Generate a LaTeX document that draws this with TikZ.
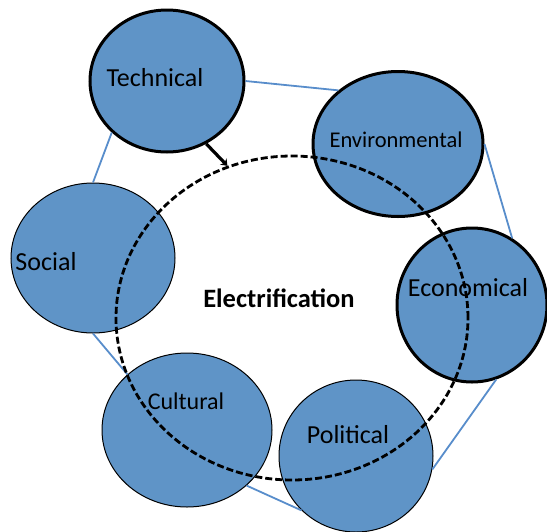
\documentclass[tikz,border=0pt]{standalone}
\usepackage{fontspec}
\setmainfont{Carlito}
\usetikzlibrary{shapes.geometric,arrows.meta}
\definecolor{ringblue}{RGB}{95,148,199}
\definecolor{linkblue}{RGB}{88,141,203}
\tikzset{
    aspect/.style={ellipse, draw, fill=ringblue, inner sep=0pt},
    heavy/.style={line width=3pt},
    light/.style={line width=1pt},
    link/.style={draw=linkblue, line width=1.8pt},
    tag/.style={inner sep=0pt, font=\fontsize{26}{30}\selectfont},
}

\begin{document}
\begin{tikzpicture}[x=1pt,y=-1pt]
\useasboundingbox (0,0) rectangle (547,531);
% the six aspects
\node[aspect, heavy, minimum width=154pt, minimum height=142pt] (tech) at (167,81) {};
\node[aspect, heavy, minimum width=170pt, minimum height=145pt] (env) at (398,144) {};
\node[aspect, heavy, minimum width=150pt, minimum height=154pt] (econ) at (472,305) {};
\node[aspect, light, minimum width=164pt, minimum height=150pt] (soc) at (93,258) {};
\node[aspect, light, minimum width=170pt, minimum height=154pt] (cult) at (187,430) {};
\node[aspect, light, minimum width=154pt, minimum height=152pt] (pol) at (356,456) {};
% ring of links
\draw[link] (tech.east) -- (env.138);
\draw[link] (env.east) -- (econ.59);
\draw[link] (econ.288) -- (pol.350);
\draw[link] (pol.225) -- (cult.317);
\draw[link] (cult.137) -- (soc.south);
\draw[link] (soc.north) -- (tech.223);
% dashed core
\node[ellipse, draw, line width=2.8pt, dash pattern=on 7pt off 3pt,
    minimum width=352pt, minimum height=324pt] (elec) at (292,318) {};
\draw[-{Stealth[length=6pt,width=9pt]}, line width=3.2pt] (tech.302) -- (elec.113);
% labels
\node[tag] (techlabel) at (155,78) {Technical};
\node[tag, font=\fontsize{22.5}{27}\selectfont] (envlabel) at (396,140) {Environmental};
\node[tag] (econlabel) at (468,288) {Economical};
\node[tag] (soclabel) at (46,262) {Social};
\node[tag, font=\fontsize{24}{28}\selectfont] (cultlabel) at (186,401) {Cultural};
\node[tag] (pollabel) at (348,435) {Political};
\node[tag, font=\bfseries\fontsize{26.5}{30}\selectfont] (eleclabel) at (279,298) {Electrification};
\end{tikzpicture}
\end{document}
